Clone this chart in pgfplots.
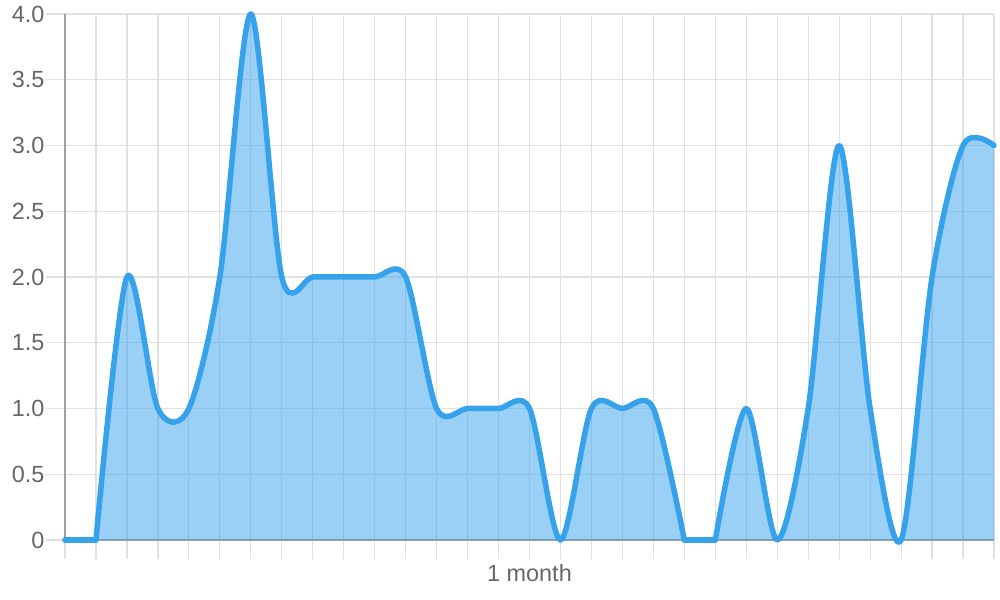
\documentclass[border=0pt]{standalone}
\usepackage{pgfplots}
\usepackage{pgfplotstable}
\pgfplotsset{compat=1.18}
\usepackage{fontspec}
\setmainfont{Liberation Sans}
\definecolor{cjsblue}{RGB}{54,162,235}
\definecolor{gridgray}{RGB}{225,225,225}
\definecolor{axisgray}{RGB}{160,160,160}
\definecolor{labelgray}{RGB}{102,102,102}

% the series, cut where it lies flat on zero
\pgfplotstableread{
x y
0 0
1 0
}\segA
\pgfplotstableread{
x y
1 0
2 2
3 1
4 1
5 2
6 4
7 2
8 2
9 2
10 2
11 2
12 1
13 1
14 1
15 1
16 0
17 1
18 1
19 1
20 0
}\segB
\pgfplotstableread{
x y
20 0
21 0
}\segC
\pgfplotstableread{
x y
21 0
22 1
23 0
24 1
25 3
26 1
27 0
28 2
29 3
30 3
}\segD

\begin{document}
\begin{tikzpicture}
  \path[use as bounding box] (0,0) rectangle (1000bp,600bp);
  \begin{axis}[
      at={(65bp,60bp)},
      anchor=south west,
      scale only axis,
      width=929bp,
      height=526bp,
      xmin=0, xmax=30,
      ymin=0, ymax=4,
      xtick={0,1,...,30},
      xticklabels={,,,,,,,,,,,,,,,1 month},
      ytick={0,0.5,...,4},
      yticklabels={0,0.5,1.0,1.5,2.0,2.5,3.0,3.5,4.0},
      tick align=outside,
      major tick length=19bp,
      tick style={gridgray, line width=1.2bp},
      grid=major,
      grid style={gridgray, line width=1.2bp},
      axis x line*=bottom,
      axis y line*=left,
      axis line style={axisgray, line width=1.2bp, -},
      ticklabel style={font=\fontsize{23.5}{28}\selectfont, text=labelgray},
      xticklabel style={yshift=-2bp},
      yticklabel style={xshift=2bp},
      /pgf/number format/assume math mode=true,
      clip=false,
      fillpart/.style={draw=none, fill=cjsblue, fill opacity=0.5, forget plot},
      linepart/.style={cjsblue, line width=5.5bp, line join=round, line cap=round, forget plot},
    ]
    \addplot[fillpart] table {\segA} \closedcycle;
    \addplot[fillpart, smooth, tension=0.5] table {\segB} \closedcycle;
    \addplot[fillpart] table {\segC} \closedcycle;
    \addplot[fillpart, smooth, tension=0.5] table {\segD} \closedcycle;
    \addplot[linepart] table {\segA};
    \addplot[linepart, smooth, tension=0.5] table {\segB};
    \addplot[linepart] table {\segC};
    \addplot[linepart, smooth, tension=0.5] table {\segD};
  \end{axis}
\end{tikzpicture}
\end{document}
